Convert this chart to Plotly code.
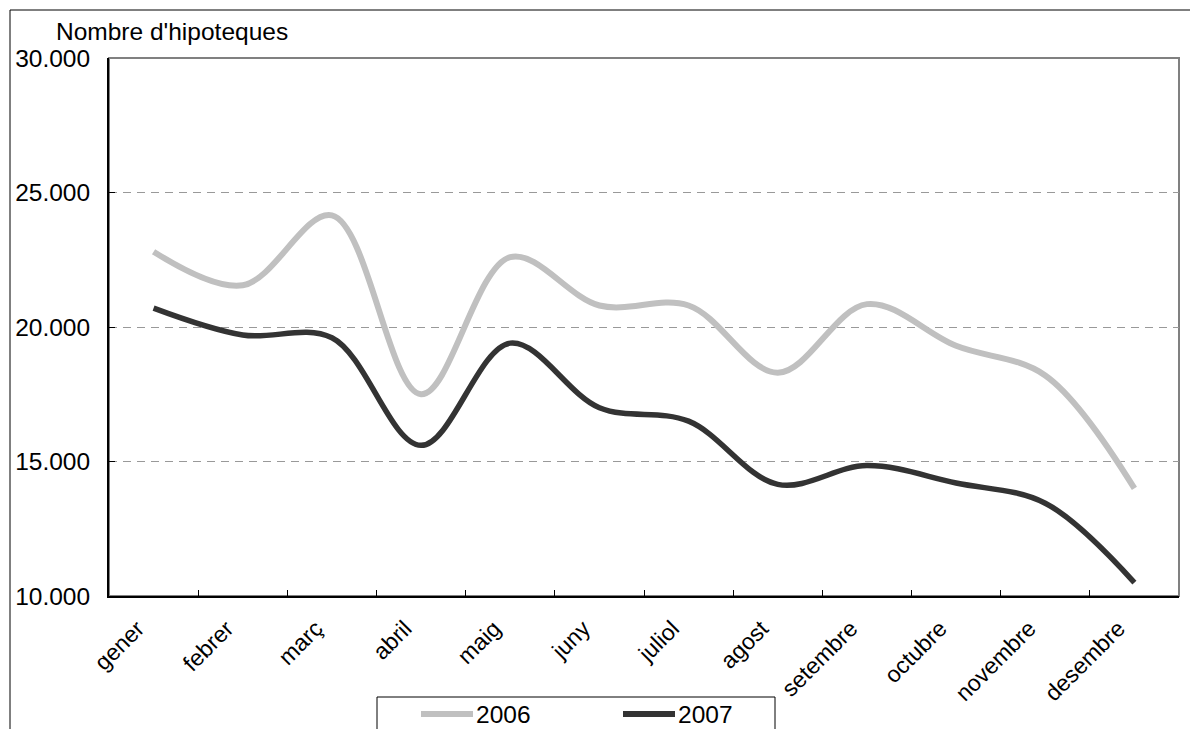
import plotly.graph_objects as go

# Monthly mortgage counts
months = ["gener", "febrer", "març", "abril", "maig", "juny",
          "juliol", "agost", "setembre", "octubre", "novembre", "desembre"]
hipoteques_2006 = [22800, 21550, 24150, 17500, 22600, 20800,
                   20800, 18300, 20850, 19300, 18200, 14000]
hipoteques_2007 = [20700, 19700, 19600, 15600, 19400, 17000,
                   16500, 14150, 14850, 14200, 13450, 10500]
y_ticks = [10000, 15000, 20000, 25000, 30000]

W, H = 1190, 729
ML, MR, MT, MB = 109, 11, 58, 133
PW, PH = W - ML - MR, H - MT - MB
FONT = "Liberation Sans, Arial, sans-serif"
FS = 24.5
FS_X = 23
GRAY = "#c0c0c0"
DARK = "#333333"


def px(x):
    return (x - ML) / PW


def py(y):
    return (H - MB - y) / PH


fig = go.Figure()
fig.add_trace(go.Scatter(x=months, y=hipoteques_2006, mode="lines", name="2006",
                         line=dict(color=GRAY, width=6, shape="spline", smoothing=1)))
fig.add_trace(go.Scatter(x=months, y=hipoteques_2007, mode="lines", name="2007",
                         line=dict(color=DARK, width=5.5, shape="spline", smoothing=1)))

shapes = [
    # outer chart frame
    dict(type="rect", xref="paper", yref="paper", x0=px(10), x1=px(1210),
         y0=py(10), y1=py(760), line=dict(color="black", width=1), layer="below"),
    # plot area border
    dict(type="rect", xref="paper", yref="paper", x0=0, x1=1, y0=0, y1=1,
         line=dict(color="#808080", width=2), layer="below"),
    # legend box
    dict(type="rect", xref="paper", yref="paper", x0=px(377), x1=px(775),
         y0=py(697), y1=py(760), line=dict(color="black", width=1)),
    dict(type="line", xref="paper", yref="paper", x0=px(421), x1=px(473),
         y0=py(714), y1=py(714), line=dict(color=GRAY, width=6)),
    dict(type="line", xref="paper", yref="paper", x0=px(623), x1=px(675),
         y0=py(714), y1=py(714), line=dict(color=DARK, width=6)),
]

annotations = [
    dict(text="Nombre d'hipoteques", xref="paper", yref="paper", x=px(54), y=py(31),
         xanchor="left", yanchor="middle", showarrow=False,
         font=dict(family=FONT, size=FS, color="black")),
    dict(text="2006", xref="paper", yref="paper", x=px(474), y=py(714),
         xanchor="left", yanchor="middle", showarrow=False,
         font=dict(family=FONT, size=FS, color="black")),
    dict(text="2007", xref="paper", yref="paper", x=px(676), y=py(714),
         xanchor="left", yanchor="middle", showarrow=False,
         font=dict(family=FONT, size=FS, color="black")),
]

fig.update_layout(
    width=W, height=H,
    margin=dict(l=ML, r=MR, t=MT, b=MB, pad=0),
    paper_bgcolor="white", plot_bgcolor="white",
    separators=",.",
    showlegend=False,
    font=dict(family=FONT, size=FS, color="black"),
    shapes=shapes,
    annotations=annotations,
)

fig.update_xaxes(
    type="category", range=[-0.5, 11.5], tickson="boundaries",
    ticks="inside", ticklen=6, tickcolor="black", tickwidth=1,
    showline=True, linecolor="black", linewidth=2,
    showgrid=False, tickangle=-45, zeroline=False,
    ticklabelshift=-16, ticklabelstandoff=8,
    tickfont=dict(family=FONT, size=FS_X, color="black"),
)
fig.update_yaxes(
    range=[10000, 30000], tickvals=y_ticks, tickformat=",.0f",
    ticks="inside", ticklen=6, tickcolor="black", tickwidth=1,
    showline=True, linecolor="black", linewidth=2,
    showgrid=True, gridcolor="#999999", gridwidth=1, griddash="8px,6px",
    zeroline=False, ticklabelstandoff=12,
    tickfont=dict(family=FONT, size=FS, color="black"),
)

fig.write_html("out.html")
